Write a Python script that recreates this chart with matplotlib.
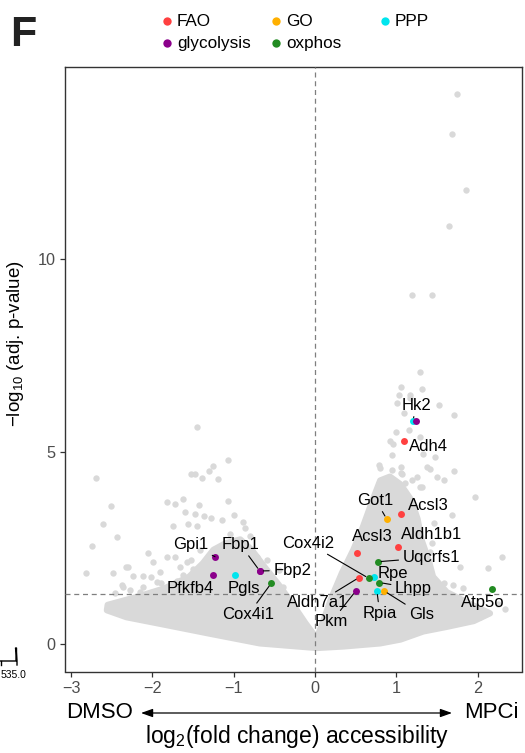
import numpy as np
import matplotlib
matplotlib.use("Agg")
import matplotlib.pyplot as plt
from matplotlib.patches import Polygon

plt.rcParams['font.family'] = ['Liberation Sans', 'DejaVu Sans']
plt.rcParams['mathtext.fontset'] = 'custom'
plt.rcParams['mathtext.rm'] = 'Liberation Sans'

# outline of the dense grey cloud (log2 FC, -log10 adj p)
cloud_x = [0.02, -0.68, -1.29, -1.91, -2.32, -2.56, -2.55, -2.2, -1.85, -1.55, -1.38, -1.25,
           -1.1, -0.92, -0.78, -0.62, -0.45, -0.28, -0.12, 0.02,
           0.10, 0.20, 0.33, 0.47, 0.58, 0.70, 0.80, 0.92, 1.05, 1.18, 1.26, 1.31, 1.40,
           1.45, 1.62, 1.95, 2.15, 1.95, 1.62, 1.33, 1.05, 0.80, 0.35]
cloud_y = [-0.10, 0.02, 0.27, 0.53, 0.70, 0.88, 1.02, 1.22, 1.45, 1.75, 2.10, 2.45,
           2.62, 2.72, 2.45, 2.00, 1.55, 1.05, 0.55, 0.15,
           0.60, 1.20, 1.85, 2.45, 3.00, 3.70, 4.25, 4.35, 4.15, 3.75, 3.25, 2.70, 2.15,
           1.75, 1.35, 1.00, 0.80, 0.60, 0.45, 0.33, 0.12, 0.02, -0.06]

# sparse grey genes outside the dense cloud
grey_x = [1.74, 1.68, 1.86, 1.65, 1.19, 1.44, 1.29, 1.05, 1.31, 1.03, 1.17, 1.17, 1.52, 1.71,
          1.01, 1.09, 1.00, 0.92, 1.15, 1.29, 1.33, 1.48, 1.71, 0.80, 0.94, 1.05, 1.41, 1.25,
          1.11, 1.29, 1.58, 1.96, 1.68, 1.46, 2.30, 2.13, 1.78, 0.78, 0.94, 1.05, 1.07, 1.19,
          1.37, 1.31, 1.50, 0.96, 1.58, 1.70, 1.82, 1.43, 1.46, 1.66, 1.78, 2.03, 1.91, 1.74,
          1.41, 1.44, 1.27, 2.25, 2.33,
          -1.455, -1.07, -1.25, -1.31, -1.52, -1.48, -1.39, -1.20, -2.69, -2.51, -2.61, -2.74,
          -2.82, -2.43, -1.82, -1.72, -1.63, -1.43, -1.07, -1.60, -1.48, -1.37, -1.28, -1.15,
          -1.00, -0.89, -1.56, -1.45, -1.75, -0.86, -2.05, -1.82, -1.72, -1.99, -2.32, -1.58,
          -2.24, -2.12, -2.38, -1.89, -0.59, -0.45, -0.39, -0.72, -2.53, -2.47, -2.36, -2.46,
          -2.28, -2.15, -2.05, -1.91, -2.48, -2.30, -2.21, -2.11, -1.91, -1.78, -1.66, -1.52,
          -1.41, -1.05, -0.80, -1.70, -1.62, -1.95, -2.02, -1.50]
grey_y = [14.29, 13.25, 11.80, 10.87, 9.06, 9.06, 7.06, 6.68, 6.62, 6.47, 6.47, 6.38, 6.21, 5.95,
          6.25, 5.99, 5.51, 5.27, 5.56, 5.38, 4.95, 4.85, 4.49, 4.58, 4.52, 4.45, 4.54, 4.35,
          4.19, 4.09, 4.26, 3.83, 3.35, 3.14, 2.27, 1.97, 2.01, 4.65, 4.91, 4.61, 4.43, 4.26,
          4.61, 4.09, 4.35, 5.21, 1.60, 1.53, 1.45, 1.69, 1.32, 0.97, 0.88, 0.71, 0.62, 0.62,
          2.40, 2.62, 2.62, 1.05, 0.90,
          5.63, 4.78, 4.62, 4.49, 4.43, 4.43, 4.32, 4.29, 4.31, 3.58, 3.12, 2.56,
          1.86, 2.79, 3.70, 3.65, 3.77, 3.61, 3.71, 3.44, 3.37, 3.32, 3.28, 3.22,
          3.35, 3.18, 3.12, 3.06, 3.06, 3.02, 2.36, 2.27, 2.27, 2.14, 2.01, 2.14,
          1.77, 1.77, 1.53, 1.59, 2.18, 1.92, 1.49, 2.27, 1.02, 0.88, 1.49, 1.32,
          1.40, 1.36, 1.07, 1.23, 1.84, 2.01, 1.10, 1.49, 1.88, 1.40, 2.01, 2.18,
          2.44, 2.85, 2.80, 1.65, 1.80, 1.62, 1.75, 1.95]

# highlighted genes
genes = ['Hk2', 'Hk2', 'Adh4', 'Got1', 'Acsl3', 'Aldh1b1', 'Acsl3', 'Uqcrfs1', 'Rpe', 'Cox4i2',
         'Aldh7a1', 'Lhpp', 'Pkm', 'Rpia', 'Gls', 'Atp5o', 'Gpi1', 'Pfkfb4', 'Pgls', 'Fbp1',
         'Fbp2', 'Cox4i1']
gene_x = [1.20, 1.24, 1.09, 0.88, 1.05, 1.02, 0.52, 0.77, 0.73, 0.66, 0.54, 0.79, 0.50, 0.76,
          0.85, 2.18, -1.23, -1.25, -0.98, -0.68, -0.68, -0.54]
gene_y = [5.79, 5.79, 5.27, 3.25, 3.39, 2.53, 2.38, 2.14, 1.75, 1.71, 1.73, 1.60, 1.38, 1.38,
          1.38, 1.44, 2.27, 1.79, 1.79, 1.90, 1.90, 1.58]
gene_set = ['PPP', 'glycolysis', 'FAO', 'GO', 'FAO', 'FAO', 'FAO', 'oxphos', 'PPP', 'oxphos',
            'FAO', 'oxphos', 'glycolysis', 'PPP', 'GO', 'oxphos', 'glycolysis', 'glycolysis',
            'PPP', 'glycolysis', 'glycolysis', 'oxphos']
# label positions (None = the duplicate point carries no label)
label_x = [1.25, None, 1.39, 0.745, 1.39, 1.435, 0.70, 1.43, 0.96, -0.08, 0.03, 1.21, 0.20,
           0.795, 1.31, 2.06, -1.53, -1.54, -0.88, -0.92, -0.28, -0.82]
label_y = [6.21, None, 5.12, 3.74, 3.59, 2.86, 2.79, 2.25, 1.83, 2.62, 1.07, 1.45, 0.58,
           0.80, 0.77, 1.07, 2.59, 1.45, 1.45, 2.59, 1.92, 0.77]
has_segment = ['Hk2', 'Got1', 'Uqcrfs1', 'Cox4i2', 'Aldh7a1', 'Lhpp', 'Pkm', 'Rpia', 'Gls',
               'Gpi1', 'Fbp1', 'Fbp2', 'Cox4i1']

set_names = ['FAO', 'GO', 'PPP', 'glycolysis', 'oxphos']
set_colors = {'FAO': '#FF4040', 'GO': '#FFB000', 'PPP': '#00E5EE',
              'glycolysis': '#8B008B', 'oxphos': '#228B22'}

grey = '#D9D9D9'

fig = plt.figure(figsize=(5.25, 7.53), dpi=100)
ax = fig.add_axes([65 / 525, 1 - 671.5 / 753, 456.7 / 525, 605 / 753])

ax.add_patch(Polygon(np.column_stack([cloud_x, cloud_y]), closed=True, facecolor=grey,
                     edgecolor=grey, linewidth=4.5, joinstyle='round', zorder=1))
ax.scatter(grey_x, grey_y, s=21, color=grey, linewidths=0, zorder=2)

ax.axhline(-np.log10(0.05), color='#7F7F7F', linestyle=(0, (4, 3)), linewidth=0.9, zorder=3)
ax.axvline(0, color='#7F7F7F', linestyle=(0, (4, 3)), linewidth=0.9, zorder=3)

for i, g in enumerate(genes):
    ax.scatter(gene_x[i], gene_y[i], s=25, color=set_colors[gene_set[i]], linewidths=0, zorder=5)
    if label_x[i] is None:
        continue
    props = None
    if g in has_segment:
        props = dict(arrowstyle='-', color='black', lw=0.8, shrinkA=1, shrinkB=2.5)
    ax.annotate(g, xy=(gene_x[i], gene_y[i]), xytext=(label_x[i], label_y[i]),
                ha='center', va='center', fontsize=12, color='black',
                arrowprops=props, zorder=6)

ax.set_xlim(-3.075, 2.54)
ax.set_ylim(-0.71, 15.0)
ax.set_xticks([-3, -2, -1, 0, 1, 2])
ax.set_xticklabels(['\u22123', '\u22122', '\u22121', '0', '1', '2'])
ax.set_yticks([0, 5, 10])
for sp in ax.spines.values():
    sp.set_color('#333333')
    sp.set_linewidth(1.0)
ax.tick_params(colors='#333333', length=3.5, width=0.9, labelsize=11.7, labelcolor='#4D4D4D')

ax.set_ylabel('\u2212log$_{10}$ (adj. p-value)', fontsize=13.5, color='black')
ax.yaxis.set_label_coords(-0.085, 0.542)

# overlay in pixel coordinates for legend and axis annotations
ov = fig.add_axes([0, 0, 1, 1], facecolor='none')
ov.set_xlim(0, 525)
ov.set_ylim(753, 0)
ov.axis('off')

fig.text(10 / 525, 1 - 35 / 753, 'F', fontsize=31, fontweight='bold', color='#222222',
         ha='left', va='center')

leg_pos = {'FAO': (167, 21), 'GO': (276, 21), 'PPP': (385, 21),
           'glycolysis': (167, 43), 'oxphos': (276, 43)}
for name in set_names:
    px, py = leg_pos[name]
    ov.scatter(px, py, s=36, color=set_colors[name], linewidths=0)
    ov.text(px + 10, py, name, fontsize=12.3, ha='left', va='center', color='black')

fig.text(100 / 525, 1 - 713 / 753, 'DMSO', fontsize=16, ha='center', va='center')
fig.text(491 / 525, 1 - 713 / 753, 'MPCi', fontsize=16, ha='center', va='center')
ov.annotate('', xy=(452, 713), xytext=(141, 713),
            arrowprops=dict(arrowstyle='<|-|>,head_length=0.7,head_width=0.25',
                            color='black', lw=0.9, shrinkA=0, shrinkB=0))
fig.text(297 / 525, 1 - 737 / 753, 'log$_2$(fold change) accessibility', fontsize=16.5,
         ha='center', va='center')

# leftover piece of the neighbouring panel
ov.plot([0, 16, 16, 15.5, 16.5, 16.5, 17, 17], [661, 661, 652, 648, 648, 652, 661, 665],
        color='black', lw=1.0)
ov.plot([0.5, 0.5], [661, 665], color='black', lw=1.0)
ov.text(1, 675, '535.0', fontsize=7.5, ha='left', va='center', color='black')

fig.savefig('out.png', dpi=100)
